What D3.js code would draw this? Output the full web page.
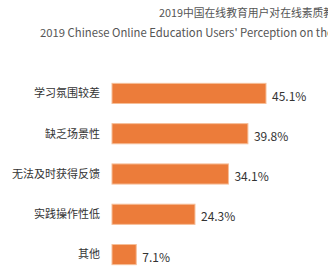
<!DOCTYPE html>
<html><head><meta charset="utf-8">
<script src="https://cdn.jsdelivr.net/npm/d3@7"></script>
<style>body{margin:0;background:#fff;overflow:hidden}svg{display:block}</style>
</head><body>
<script>
const titleCN = "2019中国在线教育用户对在线素质教育的看法";
const titleEN = "2019 Chinese Online Education Users' Perception on the Online Quality Education";
const categories = ["学习氛围较差","缺乏场景性","无法及时获得反馈","实践操作性低","其他"];
const values = [45.1, 39.8, 34.1, 24.3, 7.1];
const valueLabels = ["45.1%","39.8%","34.1%","24.3%","7.1%"];

const W = 328, H = 270;
const font = "'Noto Sans CJK SC', 'Noto Sans', sans-serif";
const svg = d3.select("body").append("svg").attr("width", W).attr("height", H);

svg.append("text").attr("x", 159).attr("y", 17).attr("font-family", font)
  .attr("font-size", 10.8).attr("fill", "#555").text(titleCN);
svg.append("text").attr("x", 40).attr("y", 37).attr("font-family", font)
  .attr("font-size", 11.3).attr("fill", "#555").text(titleEN);

const x = d3.scaleLinear().domain([0, 45.1]).range([112, 266]);
const y = d3.scaleBand().domain(categories).range([63.2, 284.8]).paddingInner(0.5).paddingOuter(0.5);

const g = svg.append("g");
g.selectAll("rect").data(values).join("rect")
  .attr("x", x(0)).attr("y", (d,i) => y(categories[i]))
  .attr("width", d => x(d) - x(0)).attr("height", y.bandwidth())
  .attr("fill", "#EC7C3A").attr("stroke", "#F6BE98").attr("stroke-width", 1);

g.selectAll("text.cat").data(categories).join("text").attr("class","cat")
  .attr("x", 100).attr("y", d => y(d) + y.bandwidth()/2).attr("dy", "0.35em")
  .attr("text-anchor", "end").attr("font-family", font).attr("font-size", 11)
  .attr("fill", "#333").text(d => d);

g.selectAll("text.val").data(values).join("text").attr("class","val")
  .attr("x", d => x(d) + 6).attr("y", (d,i) => y(categories[i]) + y.bandwidth()/2 + 3).attr("dy", "0.35em")
  .attr("font-family", font).attr("font-size", 12)
  .attr("fill", "#333").text((d,i) => valueLabels[i]);
</script>
</body></html>
